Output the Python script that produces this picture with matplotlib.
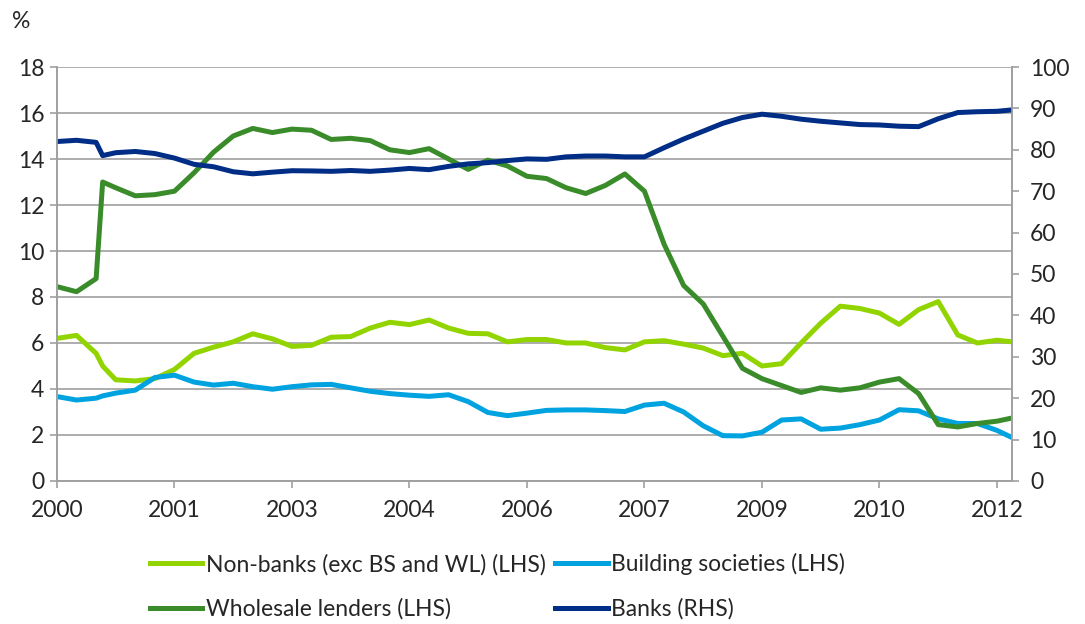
import matplotlib
matplotlib.use("Agg")
import matplotlib.pyplot as plt

# months since Jan 2000
months = [0, 3, 6, 7, 9, 12, 15, 18, 21, 24, 27, 30, 33, 36, 39, 42, 45, 48,
          51, 54, 57, 60, 63, 66, 69, 72, 75, 78, 81, 84, 87, 90, 93, 96, 99,
          102, 105, 108, 111, 114, 117, 120, 123, 126, 129, 132, 135, 138,
          141, 144, 146]

non_banks = [6.2, 6.33, 5.55, 5.0, 4.4, 4.35, 4.45, 4.85, 5.55, 5.82, 6.05,
             6.4, 6.18, 5.85, 5.9, 6.25, 6.28, 6.65, 6.9, 6.8, 7.0, 6.65,
             6.42, 6.4, 6.05, 6.15, 6.15, 6.0, 6.0, 5.8, 5.7, 6.05, 6.1,
             5.95, 5.78, 5.45, 5.55, 5.0, 5.1, 6.0, 6.86, 7.6, 7.5, 7.3,
             6.81, 7.45, 7.8, 6.35, 6.0, 6.12, 6.06]

building_soc = [3.67, 3.52, 3.6, 3.7, 3.82, 3.95, 4.5, 4.6, 4.3, 4.17, 4.25,
                4.1, 3.99, 4.1, 4.18, 4.2, 4.05, 3.9, 3.8, 3.73, 3.68, 3.75,
                3.45, 2.98, 2.84, 2.95, 3.07, 3.09, 3.09, 3.06, 3.02, 3.3,
                3.38, 3.0, 2.4, 1.97, 1.96, 2.12, 2.65, 2.7, 2.25, 2.3, 2.45,
                2.65, 3.1, 3.05, 2.7, 2.5, 2.5, 2.2, 1.93]

wholesale = [8.45, 8.23, 8.8, 13.0, 12.75, 12.4, 12.45, 12.6, 13.4, 14.3,
             15.0, 15.33, 15.15, 15.3, 15.25, 14.85, 14.9, 14.8, 14.4, 14.28,
             14.45, 14.0, 13.55, 13.95, 13.7, 13.25, 13.15, 12.75, 12.5,
             12.85, 13.35, 12.6, 10.3, 8.5, 7.7, 6.3, 4.9, 4.45, 4.15, 3.85,
             4.05, 3.95, 4.05, 4.3, 4.45, 3.8, 2.45, 2.35, 2.5, 2.6, 2.72]

banks = [82.0, 82.3, 81.8, 78.6, 79.3, 79.6, 79.1, 78.0, 76.5, 75.9, 74.7,
         74.2, 74.6, 74.95, 74.9, 74.8, 75.0, 74.8, 75.1, 75.5, 75.2, 76.0,
         76.6, 76.9, 77.4, 77.8, 77.7, 78.3, 78.5, 78.5, 78.3, 78.3, 80.5,
         82.6, 84.5, 86.4, 87.8, 88.6, 88.1, 87.4, 86.9, 86.5, 86.1, 86.0,
         85.7, 85.6, 87.5, 89.0, 89.2, 89.3, 89.6]

tick_months = [0, 18, 36, 54, 72, 90, 108, 126, 144]
tick_labels = ["2000", "2001", "2003", "2004", "2006", "2007", "2009", "2010", "2012"]

plt.rcParams["font.family"] = ["Lato", "DejaVu Sans"]
grey = "#A0A0A0"
text_col = "#262626"
fs = 16.5

fig = plt.figure(figsize=(10.85, 6.24), dpi=100)
ax = fig.add_axes([0.0525, 0.2292, 0.8802, 0.6634])
ax2 = ax.twinx()

lw = 3.6
l1, = ax.plot(months, non_banks, color="#92D400", lw=lw, label="Non-banks (exc BS and WL) (LHS)")
l2, = ax.plot(months, building_soc, color="#00A3E0", lw=lw, label="Building societies (LHS)")
l3, = ax.plot(months, wholesale, color="#3A8C2A", lw=lw, label="Wholesale lenders (LHS)")
l4, = ax2.plot(months, banks, color="#002D85", lw=lw, label="Banks (RHS)")

ax.set_xlim(0, 146.3)
ax.set_ylim(0, 18)
ax.set_yticks(range(0, 19, 2))
ax2.set_ylim(0, 100)
ax2.set_yticks(range(0, 101, 10))
ax.set_xticks(tick_months)
ax.set_xticklabels(tick_labels)

ax.grid(axis="y", color=grey, lw=1.2)
ax.set_axisbelow(True)
for a in (ax, ax2):
    a.spines["top"].set_visible(False)
    for s in ("left", "right", "bottom"):
        a.spines[s].set_color(grey)
        a.spines[s].set_linewidth(1.2)
    a.tick_params(colors=grey, labelcolor=text_col, labelsize=fs, length=5, width=1.2)
ax.tick_params(axis="x", pad=9)
ax.tick_params(axis="y", pad=4)
ax2.tick_params(axis="y", pad=8)

fig.text(0.011, 0.966, "%", fontsize=fs, color=text_col, va="center")

fig.legend(handles=[l1, l3, l2, l4], ncol=2, loc="center left",
           bbox_to_anchor=(0.119, 0.060), frameon=False, fontsize=fs,
           handlelength=2.3, handletextpad=0.15, columnspacing=0.4,
           labelspacing=1.0, labelcolor=text_col)

fig.savefig("out.png", dpi=100)
